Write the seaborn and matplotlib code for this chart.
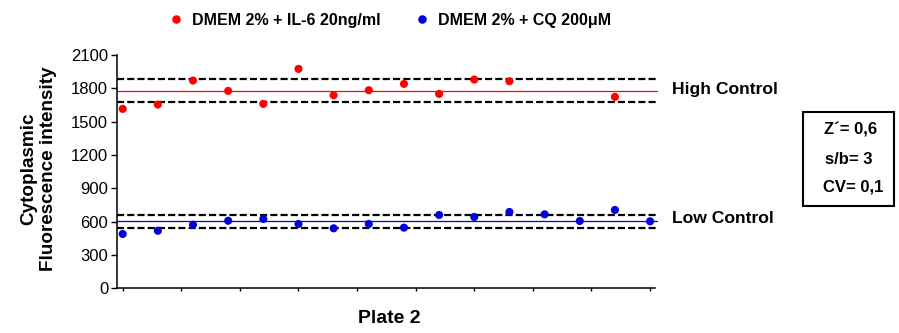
import numpy as np
import pandas as pd
import matplotlib
matplotlib.use("Agg")
import matplotlib.pyplot as plt
import seaborn as sns
from matplotlib.patches import Rectangle

# ---- data ----
high_label = "DMEM 2% + IL-6 20ng/ml"
low_label = "DMEM 2% + CQ 200\u03bcM"
high_wells = [0, 1, 2, 3, 4, 5, 6, 7, 8, 9, 10, 11, 14]
high_values = [1615, 1654, 1870, 1777, 1660, 1975, 1738, 1783, 1840, 1750, 1879, 1864, 1723]
low_wells = list(range(16))
low_values = [489, 518, 572, 608, 624, 579, 540, 579, 546, 660, 642, 687, 666, 606, 705, 603]
y_ticks = [0, 300, 600, 900, 1200, 1500, 1800, 2100]
stats_lines = ["Z\u00b4= 0,6", "s/b= 3", "CV= 0,1"]
x_label = "Plate 2"
y_label = "Cytoplasmic\nFluorescence intensity"

df = pd.DataFrame({
    "well": high_wells + low_wells,
    "value": high_values + low_values,
    "condition": [high_label] * len(high_values) + [low_label] * len(low_values),
})

sns.set_style("ticks")
plt.rcParams["font.family"] = ["Liberation Sans", "DejaVu Sans"]
plt.rcParams["text.color"] = "black"
plt.rcParams["axes.labelcolor"] = "black"
plt.rcParams["xtick.color"] = "black"
plt.rcParams["ytick.color"] = "black"
plt.rcParams["axes.edgecolor"] = "black"

W, H = 899, 333
fig = plt.figure(figsize=(W / 100, H / 100), dpi=100)
ax_l, ax_r, ax_t, ax_b = 116.5, 655.0, 55.0, 288.3
ax = fig.add_axes([ax_l / W, 1 - ax_b / H, (ax_r - ax_l) / W, (ax_b - ax_t) / H])

red = "#FF0000"
blue = "#0000DD"

# mean and SD lines
for vals, col in [(high_values, red), (low_values, blue)]:
    m = np.mean(vals)
    sd = np.std(vals, ddof=1)
    ax.axhline(m, color=col, lw=0.9, zorder=2, xmax=1.004, clip_on=False)
    for v in (m - sd, m + sd):
        ax.axhline(v, color="black", lw=1.6, ls=(0, (3.2, 1.4)), zorder=2,
                   xmax=1.004, clip_on=False)

sns.scatterplot(data=df, x="well", y="value", hue="condition",
                palette={high_label: red, low_label: blue},
                s=34, edgecolor="none", linewidth=0, zorder=3, ax=ax)

handles, labels = ax.get_legend_handles_labels()
ax.get_legend().remove()
fig.legend(handles, labels, loc="center left",
           bbox_to_anchor=(168 / W, 1 - 20 / H), ncol=2, frameon=False,
           prop={"weight": "bold", "size": 11.5}, handlelength=1.0,
           handletextpad=0.5, columnspacing=2.1, borderpad=0, borderaxespad=0,
           markerscale=1.05)

ax.set_xlim(-0.176, 15.14)
ax.set_ylim(0, 2100)
ax.set_yticks(y_ticks)
ax.set_xticks(np.linspace(0, 15, 10))
ax.set_xticklabels([])
ax.set_xlabel("")
ax.set_ylabel("")
ax.tick_params(axis="y", direction="out", length=4, width=1.0, labelsize=12, pad=2,
               color="black", labelcolor="black")
ax.tick_params(axis="x", direction="out", length=2.5, width=1.0, color="black")
for side in ("top", "right"):
    ax.spines[side].set_visible(False)
for side in ("left", "bottom"):
    ax.spines[side].set_linewidth(1.1)
    ax.spines[side].set_color("black")

fig.text(389.7 / W, 1 - 318.3 / H, x_label, ha="center", va="center",
         fontsize=14, fontweight="bold", color="black")
fig.text(38.5 / W, 1 - 169 / H, y_label, ha="center", va="center", rotation=90,
         fontsize=13.6, fontweight="bold", linespacing=1.18, color="black")

fig.text(671.7 / W, 1 - 89.3 / H, "High Control", ha="left", va="center",
         fontsize=12.6, fontweight="bold", color="black")
fig.text(671.7 / W, 1 - 218.3 / H, "Low Control", ha="left", va="center",
         fontsize=12.6, fontweight="bold", color="black")

bx0, by0, bx1, by1 = 802.7, 111.7, 894.0, 205.7
fig.patches.append(Rectangle((bx0 / W, 1 - by1 / H), (bx1 - bx0) / W, (by1 - by0) / H,
                             transform=fig.transFigure, fill=False,
                             edgecolor="black", linewidth=1.5))
for txt, yc, xl in zip(stats_lines, [130, 159.3, 187.3], [824, 824.7, 823.3]):
    fig.text(xl / W, 1 - yc / H, txt, ha="left", va="center",
             fontsize=12, fontweight="bold", color="black")

fig.savefig("out.png", dpi=100)
